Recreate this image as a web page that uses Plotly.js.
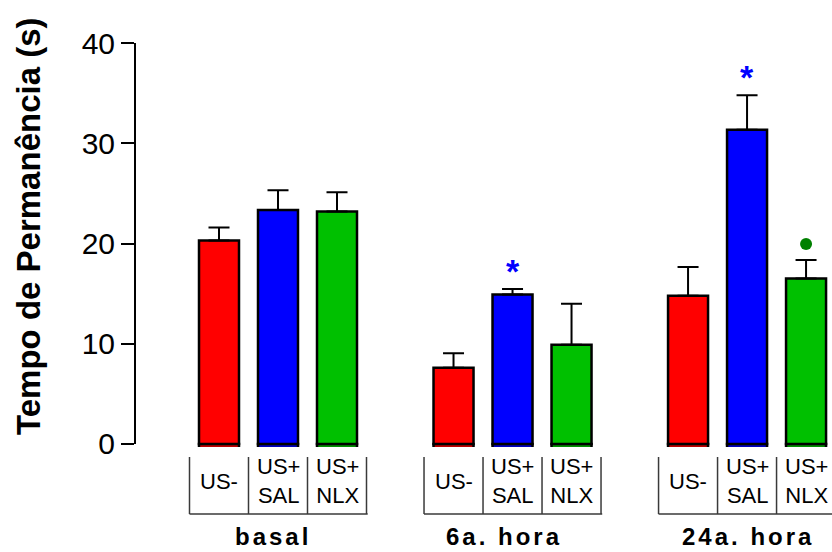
<!DOCTYPE html>
<html>
<head>
<meta charset="utf-8">
<script src="https://cdn.plot.ly/plotly-3.0.1.min.js"></script>
<style>
  html, body { margin: 0; padding: 0; background: #ffffff; }
  #chart { width: 832px; height: 552px; }
</style>
</head>
<body>
<div id="chart"></div>
<script>
// Time spent (s) per session and treatment group
const groups = ['basal', '6a. hora', '24a. hora'];
const conditions = ['US-', 'US+<br>SAL', 'US+<br>NLX'];

const usMinus      = [20.3, 7.6, 14.8];
const usMinusErr   = [1.3, 1.45, 2.85];
const usSal        = [23.35, 14.9, 31.35];
const usSalErr     = [1.95, 0.55, 3.45];
const usNlx        = [23.2, 9.9, 16.5];
const usNlxErr     = [1.9, 4.1, 1.85];

// significance marks: '*' vs US- (blue), '●' vs US+SAL (green)
const starOnSal = [false, true, true];
const dotOnNlx  = [false, false, true];

const yTicks = [0, 10, 20, 30, 40];
const yTitle = 'Tempo de Permanência (s)';

const series = [
  { y: usMinus, err: usMinusErr, color: '#ff0000' },
  { y: usSal,   err: usSalErr,   color: '#0000ff' },
  { y: usNlx,   err: usNlxErr,   color: '#00c000' }
];

const GROUP_STEP = 3.975;
const BAR_W = 0.678;
const FONT = 'Liberation Sans, Arial, Helvetica, sans-serif';

function xPos(b) { return groups.map((g, i) => i * GROUP_STEP + b); }

const traces = [];
// short strip below the baseline under each bar
series.forEach((s, b) => {
  traces.push({
    type: 'bar', x: xPos(b), y: s.y.map(() => 0.4), base: -0.4,
    width: BAR_W, marker: { color: s.color, line: { color: '#000', width: 2.5 } },
    hoverinfo: 'skip', showlegend: false
  });
});
series.forEach((s, b) => {
  traces.push({
    type: 'bar', x: xPos(b), y: s.y, width: BAR_W,
    marker: { color: s.color, line: { color: '#000', width: 2.5 } },
    error_y: { type: 'data', symmetric: false, array: s.err, arrayminus: s.y.map(() => 0),
               color: '#000', thickness: 2, width: 10.5 },
    name: conditions[b].replace('<br>', ''), showlegend: false
  });
});

// green dot markers
const dotX = [], dotY = [];
groups.forEach((g, i) => {
  if (dotOnNlx[i]) { dotX.push(i * GROUP_STEP + 2); dotY.push(usNlx[i] + usNlxErr[i] + 1.6); }
});
traces.push({
  type: 'scatter', mode: 'markers', x: dotX, y: dotY,
  marker: { color: '#008000', size: 12, symbol: 'circle' },
  hoverinfo: 'skip', showlegend: false, cliponaxis: false
});

const annotations = [];
const shapes = [];

// y axis line from 0 to 40
shapes.push({ type: 'line', xref: 'paper', yref: 'y', x0: 0, x1: 0, y0: 0, y1: 40,
              line: { color: '#000', width: 2 }, layer: 'above' });

const PLOT_W = 832 - 135;
const pxToPaperY = p => (447 - p) / 404;
const pxToPaperX = p => (p - 135) / PLOT_W;
const groupShift = [-5, -9, 1];

// y axis title, rotated
annotations.push({ xref: 'paper', yref: 'paper', x: pxToPaperX(29), y: pxToPaperY(226),
  text: yTitle, textangle: -90, showarrow: false, xanchor: 'center', yanchor: 'middle',
  font: { family: FONT, size: 33, color: '#000', weight: 'bold' } });

groups.forEach((g, i) => {
  const x0 = i * GROUP_STEP;
  // label box lines
  for (let b = 0; b <= 3; b++) {
    shapes.push({ type: 'line', xref: 'x', yref: 'paper',
      x0: x0 + b - 0.5, x1: x0 + b - 0.5, y0: pxToPaperY(457), y1: pxToPaperY(514),
      line: { color: '#3a3a3a', width: 1.5 } });
  }
  shapes.push({ type: 'line', xref: 'x', yref: 'paper',
    x0: x0 - 0.5, x1: x0 + 2.52, y0: pxToPaperY(514), y1: pxToPaperY(514),
    line: { color: '#3a3a3a', width: 1.5 } });

  conditions.forEach((c, b) => {
    annotations.push({ xref: 'x', yref: 'paper', x: x0 + b, y: pxToPaperY(481),
      text: c, showarrow: false, xanchor: 'center', yanchor: 'middle',
      font: { family: FONT, size: 22, color: '#000' } });
  });

  annotations.push({ xref: 'x', yref: 'paper', x: x0 + 1, y: pxToPaperY(536),
    xshift: groupShift[i],
    text: '<span style="letter-spacing:3px">' + g + '</span>', showarrow: false,
    xanchor: 'center', yanchor: 'middle',
    font: { family: FONT, size: 24, color: '#000', weight: 'bold' } });

  if (starOnSal[i]) {
    annotations.push({ xref: 'x', yref: 'y', x: x0 + 1, y: usSal[i] + usSalErr[i],
      text: '*', showarrow: false, xanchor: 'center', yanchor: 'bottom', yshift: -3,
      font: { family: FONT, size: 34, color: '#0000ff', weight: 'bold' } });
  }
});

const layout = {
  width: 832, height: 552,
  margin: { l: 135, r: 0, t: 43, b: 105, pad: 0 },
  paper_bgcolor: '#ffffff', plot_bgcolor: '#ffffff',
  barmode: 'overlay',
  showlegend: false,
  xaxis: {
    range: [-84 / 59, 613 / 59], showticklabels: false, ticks: '',
    showgrid: false, zeroline: false, showline: false, fixedrange: true
  },
  yaxis: {
    range: [-0.3, 40], tickvals: yTicks, ticktext: yTicks.map(String),
    ticks: 'outside', ticklen: 13, tickwidth: 2, tickcolor: '#000',
    tickfont: { family: FONT, size: 30, color: '#000' },
    showgrid: false, zeroline: false, showline: false, fixedrange: true
  },
  shapes: shapes,
  annotations: annotations
};

Plotly.newPlot('chart', traces, layout, { staticPlot: true, displayModeBar: false });
</script>
</body>
</html>
